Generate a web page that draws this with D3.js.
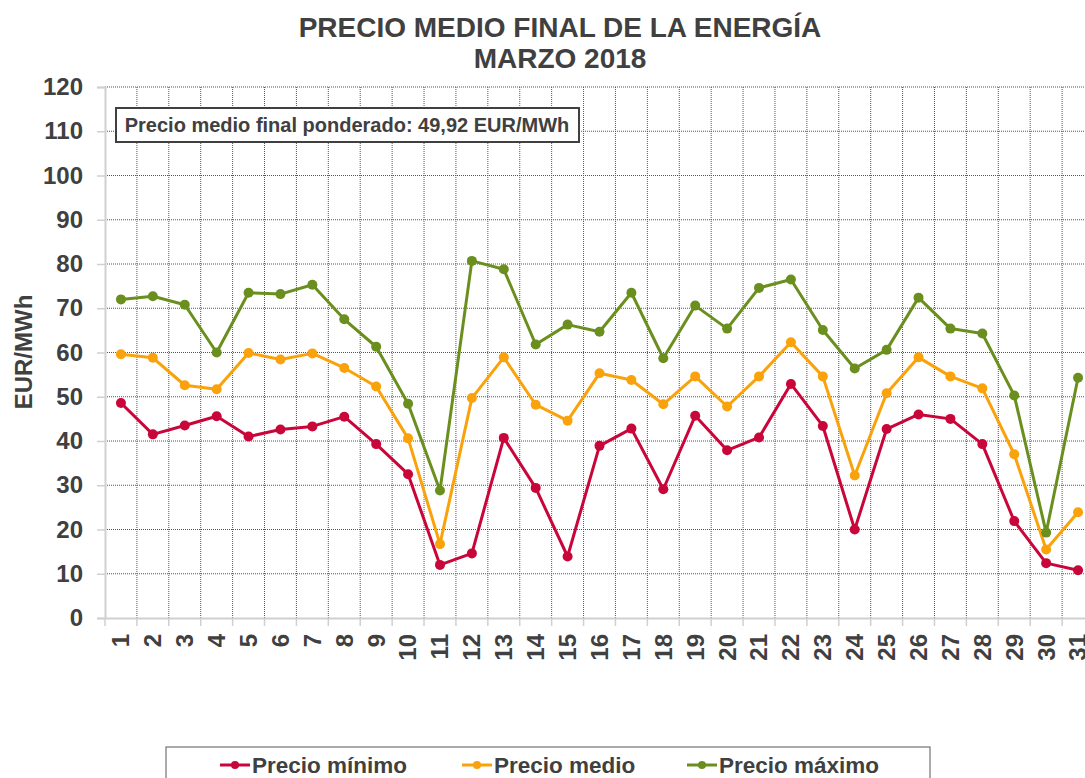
<!DOCTYPE html>
<html>
<head>
<meta charset="utf-8">
<script src="https://cdn.jsdelivr.net/npm/d3@7/dist/d3.min.js"></script>
<style>
  body { margin: 0; background: #fff; overflow: hidden; }
  svg { display: block; font-family: "Liberation Sans", Arial, sans-serif; }
</style>
</head>
<body>
<svg id="chart" width="1085" height="778"></svg>
<script>
'use strict';

var days = d3.range(1, 32).map(String);
var yTicks = [0, 10, 20, 30, 40, 50, 60, 70, 80, 90, 100, 110, 120];

var precioMinimo = [48.6, 41.5, 43.5, 45.6, 41.0, 42.6, 43.3, 45.5, 39.3, 32.5, 12.0,
    14.6, 40.7, 29.4, 13.9, 38.9, 42.8, 29.1, 45.7, 37.9, 40.8, 52.9, 43.4, 20.0,
    42.7, 46.0, 45.0, 39.3, 21.9, 12.4, 10.8];
var precioMedio = [59.6, 58.8, 52.6, 51.7, 59.9, 58.4, 59.8, 56.5, 52.3, 40.6, 16.7,
    49.7, 58.9, 48.2, 44.6, 55.3, 53.8, 48.3, 54.6, 47.8, 54.6, 62.3, 54.6, 32.2,
    50.8, 58.9, 54.6, 51.9, 37.0, 15.5, 23.9];
var precioMaximo = [72.0, 72.7, 70.8, 60.0, 73.5, 73.2, 75.3, 67.5, 61.3, 48.4, 28.8,
    80.7, 78.8, 61.8, 66.3, 64.7, 73.5, 58.7, 70.6, 65.4, 74.6, 76.5, 65.1, 56.4,
    60.6, 72.4, 65.4, 64.3, 50.3, 19.3, 54.3];

var seriesNames = ['Precio mínimo', 'Precio medio', 'Precio máximo'];
var seriesColors = ['#c8063a', '#f9a20b', '#6a8f1f'];
var series = [precioMinimo, precioMedio, precioMaximo];

var svg = d3.select('#chart');
var textColor = '#404040';

var plotLeft = 105, plotRight = 1094, plotTop = 87, plotBottom = 618;

var x = d3.scaleBand().domain(days).range([plotLeft, plotRight]).padding(0);
var y = d3.scaleLinear().domain([0, 120]).range([plotBottom, plotTop]);

//title
var title = svg.append('text')
    .attr('text-anchor', 'middle')
    .attr('font-weight', 'bold')
    .attr('font-size', 28)
    .attr('fill', textColor);
title.append('tspan').attr('x', 560).attr('y', 37).text('PRECIO MEDIO FINAL DE LA ENERGÍA');
title.append('tspan').attr('x', 560).attr('y', 68).text('MARZO 2018');

//grid
var grid = svg.append('g').attr('class', 'grid');
grid.selectAll('line.h')
    .data(yTicks.slice(1))
    .enter().append('line')
    .attr('class', 'h')
    .attr('x1', plotLeft).attr('x2', plotRight)
    .attr('y1', function (d) { return y(d); })
    .attr('y2', function (d) { return y(d); })
    .attr('stroke', '#555')
    .attr('stroke-width', 1)
    .attr('stroke-dasharray', '1,1');
grid.selectAll('line.v')
    .data(days.slice(1))
    .enter().append('line')
    .attr('class', 'v')
    .attr('x1', function (d) { return x(d); })
    .attr('x2', function (d) { return x(d); })
    .attr('y1', plotTop).attr('y2', plotBottom)
    .attr('stroke', '#555')
    .attr('stroke-width', 1)
    .attr('stroke-dasharray', '1,1');

//y axis
var yAxis = svg.append('g')
    .attr('transform', 'translate(' + plotLeft + ',0)')
    .call(d3.axisLeft(y).tickValues(yTicks).tickSize(8).tickPadding(14));
yAxis.select('.domain').attr('stroke', '#d0d0d0').attr('stroke-width', 2);
yAxis.selectAll('.tick line').attr('stroke', '#d0d0d0').attr('stroke-width', 1.5);
yAxis.selectAll('.tick text')
    .attr('font-family', '"Liberation Sans", Arial, sans-serif')
    .attr('font-size', 24)
    .attr('font-weight', 'bold')
    .attr('fill', textColor);

//x axis
var xAxis = svg.append('g')
    .attr('transform', 'translate(0,' + plotBottom + ')')
    .call(d3.axisBottom(x).tickSize(0).tickPadding(0));
xAxis.select('.domain').attr('stroke', '#d0d0d0').attr('stroke-width', 2);
xAxis.selectAll('.tick text')
    .attr('font-family', '"Liberation Sans", Arial, sans-serif')
    .attr('font-size', 24)
    .attr('font-weight', 'bold')
    .attr('fill', textColor)
    .attr('text-anchor', 'end')
    .attr('y', 0)
    .attr('dy', '0.35em')
    .attr('transform', 'translate(0,16) rotate(-90)');
svg.append('g').selectAll('line')
    .data(days)
    .enter().append('line')
    .attr('x1', function (d) { return x(d); })
    .attr('x2', function (d) { return x(d); })
    .attr('y1', plotBottom).attr('y2', plotBottom + 8)
    .attr('stroke', '#d0d0d0')
    .attr('stroke-width', 1.5);

//y axis title
svg.append('text')
    .attr('transform', 'translate(32,352) rotate(-90)')
    .attr('text-anchor', 'middle')
    .attr('font-weight', 'bold')
    .attr('font-size', 24)
    .attr('fill', textColor)
    .text('EUR/MWh');

//lines
var line = d3.line()
    .x(function (d, i) { return x(days[i]) + x.bandwidth() / 2; })
    .y(function (d) { return y(d); });

series.forEach(function (values, s) {
    var g = svg.append('g').attr('class', 'series');
    g.append('path')
        .datum(values)
        .attr('d', line)
        .attr('fill', 'none')
        .attr('stroke', seriesColors[s])
        .attr('stroke-width', 3)
        .attr('stroke-linejoin', 'round');
    g.selectAll('circle')
        .data(values)
        .enter().append('circle')
        .attr('cx', function (d, i) { return x(days[i]) + x.bandwidth() / 2; })
        .attr('cy', function (d) { return y(d); })
        .attr('r', 5)
        .attr('fill', seriesColors[s]);
});

//weighted price box
svg.append('rect')
    .attr('x', 116).attr('y', 108)
    .attr('width', 463).attr('height', 34)
    .attr('fill', '#fff')
    .attr('stroke', '#404040')
    .attr('stroke-width', 2);
svg.append('text')
    .attr('x', 347).attr('y', 132)
    .attr('text-anchor', 'middle')
    .attr('font-weight', 'bold')
    .attr('font-size', 20)
    .attr('fill', textColor)
    .text('Precio medio final ponderado: 49,92 EUR/MWh');

//legend
svg.append('rect')
    .attr('x', 166).attr('y', 747)
    .attr('width', 764).attr('height', 60)
    .attr('fill', '#fff')
    .attr('stroke', '#595959')
    .attr('stroke-width', 1);
var legendX = [220, 462, 687];
var legend = svg.append('g').selectAll('g')
    .data(seriesNames)
    .enter().append('g')
    .attr('transform', function (d, i) { return 'translate(' + legendX[i] + ',765)'; });
legend.append('line')
    .attr('x1', 0).attr('x2', 30)
    .attr('stroke', function (d, i) { return seriesColors[i]; })
    .attr('stroke-width', 3);
legend.append('circle')
    .attr('cx', 15).attr('r', 4)
    .attr('fill', function (d, i) { return seriesColors[i]; });
legend.append('text')
    .attr('x', 32).attr('dy', '0.36em')
    .attr('font-weight', 'bold')
    .attr('font-size', 22.5)
    .attr('fill', textColor)
    .text(function (d) { return d; });
</script>
</body>
</html>
